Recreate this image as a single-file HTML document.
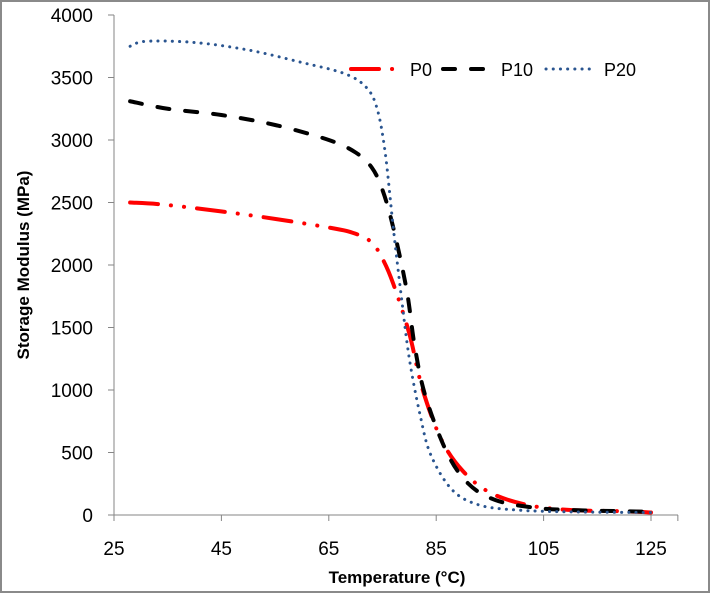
<!DOCTYPE html>
<html><head><meta charset="utf-8"><style>
html,body{margin:0;padding:0;background:#fff}
body{width:710px;height:593px;overflow:hidden;font-family:"Liberation Sans",Arial,sans-serif}
</style></head><body>
<svg width="710" height="593" xmlns="http://www.w3.org/2000/svg">
<rect x="1" y="1" width="708" height="591" fill="#fff" stroke="#8a8a8a" stroke-width="2"/>
<g id="axes"></g>
<g id="series"></g>
<g font-size="18" fill="#000">
<line x1="351" y1="69" x2="398" y2="69" stroke="#f00" stroke-width="4" stroke-linecap="round" stroke-dasharray="28 13 0.1 40"/>
<text x="410" y="76">P0</text>
<line x1="443" y1="69" x2="485" y2="69" stroke="#000" stroke-width="4" stroke-linecap="round" stroke-dasharray="12 16"/>
<text x="501" y="76">P10</text>
<line x1="546" y1="69" x2="596" y2="69" stroke="#2a5590" stroke-width="3" stroke-linecap="round" stroke-dasharray="0.1 7.1"/>
<text x="604" y="76">P20</text>
</g>
<text x="397" y="583" font-size="17" font-weight="bold" text-anchor="middle">Temperature (°C)</text>
<text transform="translate(29,265) rotate(-90)" font-size="17" font-weight="bold" text-anchor="middle">Storage Modulus (MPa)</text>
</svg>
<script>
const xTicks=[25,45,65,85,105,125];
const yTicks=[0,500,1000,1500,2000,2500,3000,3500,4000];
const p0T=[28,35,50,65,70,73,75,77,80,82.5,86,90,95,102,110,120,125];
const p0V=[2500,2480,2400,2300,2250,2180,2050,1850,1450,1000,600,350,180,80,40,30,20];
const p10T=[28,35,45,55,65,70,73,75,77,79.5,81,83,87,91,96,103,110,120,125];
const p10V=[3310,3250,3200,3120,3000,2900,2780,2600,2300,1800,1350,950,500,250,120,60,40,30,25];
const p20T=[28,31,40,50,60,68,72,74,75.5,77,78.5,80,82,84,88,93,100,110,125];
const p20V=[3750,3790,3780,3720,3620,3530,3420,3250,2900,2300,1750,1250,800,480,200,80,40,25,20];
const NS='http://www.w3.org/2000/svg';
const X=t=>114+(t-25)*(651-114)/100;
const Y=v=>515-v*(500/4000);
const ax=document.getElementById('axes');
function mk(tag,attrs,parent){const e=document.createElementNS(NS,tag);for(const k in attrs)e.setAttribute(k,attrs[k]);parent.appendChild(e);return e;}
let l=mk('line',{x1:114,y1:15,x2:114,y2:515,stroke:'#868686','stroke-width':1},ax);


l=mk('line',{x1:108,y1:515,x2:678,y2:515,stroke:'#868686','stroke-width':1},ax);


yTicks.forEach(v=>{
 const t=mk('line',{x1:108,y1:Y(v),x2:114,y2:Y(v),stroke:'#868686'},ax);
 
 
 const tx=mk('text',{x:93,y:Y(v)+7,'font-size':19,'text-anchor':'end'},ax);tx.textContent=v;
 
 
});
xTicks.concat([130]).forEach(v=>{
 const t=mk('line',{x1:X(v),y1:515,x2:X(v),y2:521,stroke:'#868686'},ax);
 
 
});
xTicks.forEach(v=>{
 const tx=mk('text',{x:X(v),y:555,'font-size':19,'text-anchor':'middle'},ax);tx.textContent=v;
 
 
});
function path(T,V){
 const p=T.map((t,i)=>[X(t),Y(V[i])]);
 let d='M'+p[0][0]+','+p[0][1];
 for(let i=0;i<p.length-1;i++){
  const a=p[i-1]||p[i],b=p[i],c=p[i+1],e=p[i+2]||c;
  const c1=[b[0]+(c[0]-a[0])/6,b[1]+(c[1]-a[1])/6],c2=[c[0]-(e[0]-b[0])/6,c[1]-(e[1]-b[1])/6];
  d+=' C'+c1+' '+c2+' '+c;
 }
 return d;
}
const sg=document.getElementById('series');
let s=mk('path',{d:path(p0T,p0V),fill:'none',stroke:'#f00','stroke-width':4,'stroke-linecap':'round','stroke-dasharray':'28 13 0.1 13 0.1 13'},sg);


s=mk('path',{d:path(p10T,p10V),fill:'none',stroke:'#000','stroke-width':4,'stroke-linecap':'round','stroke-dasharray':'12 16'},sg);


s=mk('path',{d:path(p20T,p20V),fill:'none',stroke:'#2a5590','stroke-width':3,'stroke-linecap':'round','stroke-dasharray':'0.1 7.1'},sg);


</script>
</body></html>
